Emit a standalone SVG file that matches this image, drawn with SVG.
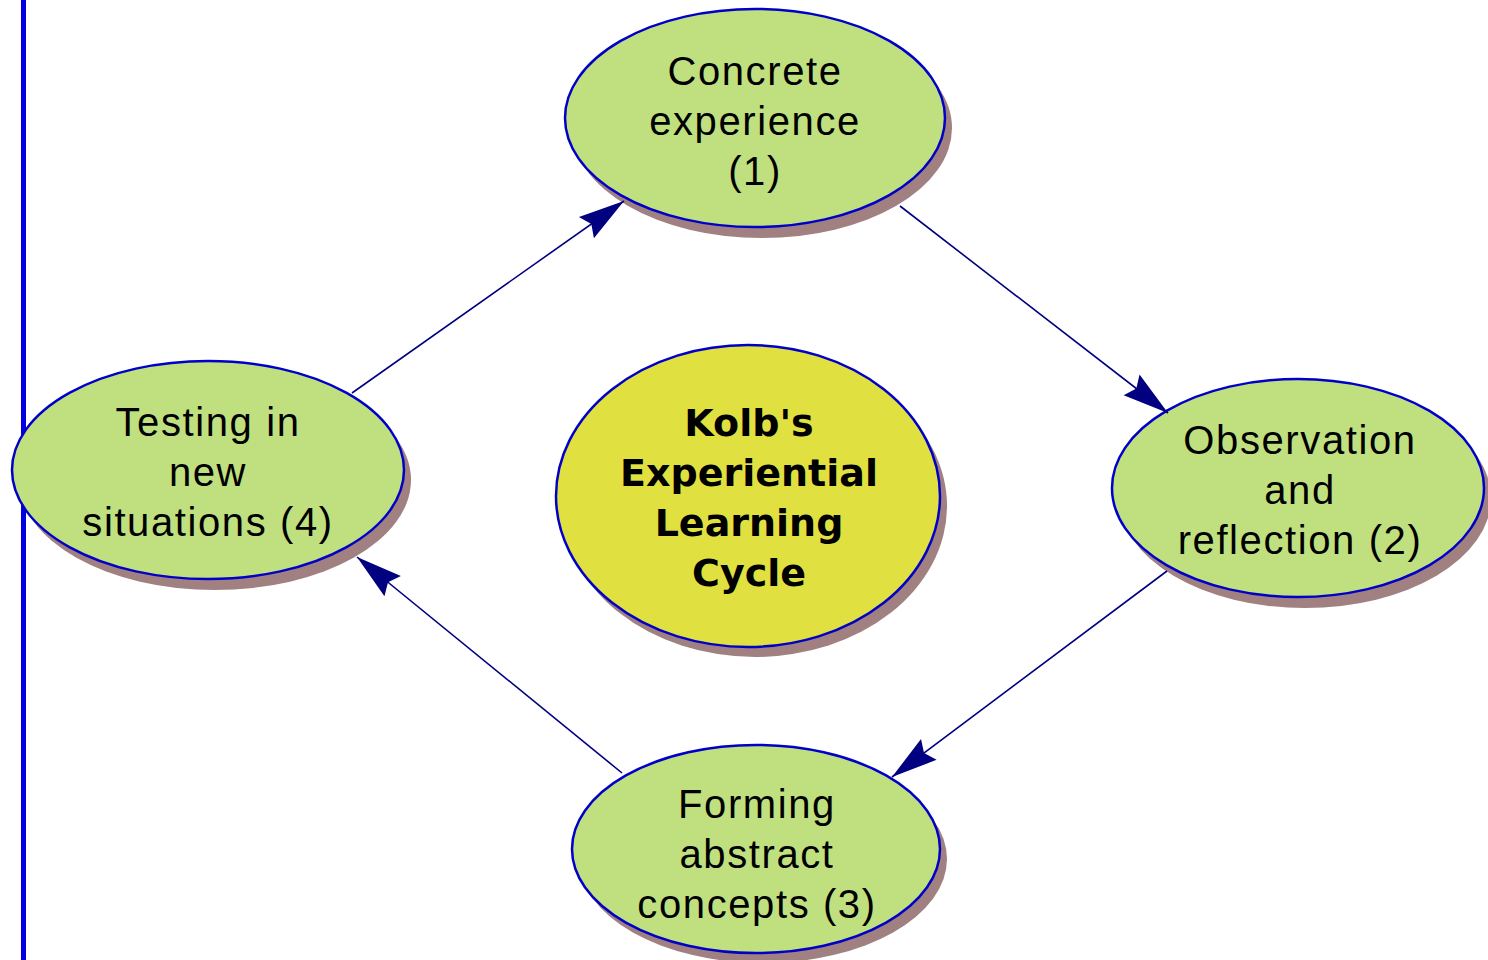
<svg xmlns="http://www.w3.org/2000/svg" width="1488" height="960" viewBox="0 0 1488 960">
<style>
.shadow{fill:#A08080;}
.node{fill:#C0E080;stroke:#0000C8;stroke-width:2.5;}
.center{fill:#E0E040;stroke:#0000C8;stroke-width:2.5;}
.lbl{font-family:"Liberation Sans",Arial,sans-serif;font-size:40px;fill:#000;text-anchor:middle;letter-spacing:1.6px;}
.title{font-family:"DejaVu Sans",Verdana,sans-serif;font-weight:bold;font-size:38px;fill:#000;text-anchor:middle;}
.link{stroke:#000080;stroke-width:1.6;fill:none;marker-end:url(#arrow);}
</style>
<defs>
<marker id="arrow" markerUnits="userSpaceOnUse" viewBox="-50 -15 52 30" refX="0" refY="0" markerWidth="52" markerHeight="30" orient="auto">
<path d="M0,0 L-46,-13 L-40,0 L-46,13 Z" fill="#000080"/>
</marker>
</defs>
<rect x="0" y="0" width="1488" height="960" fill="#FFFFFF"/>
<rect x="21" y="0" width="5" height="960" fill="#0000E0"/>

<g id="node-concrete">
<ellipse class="shadow" cx="762" cy="128" rx="190" ry="110"/>
<ellipse class="node" cx="755" cy="118" rx="190" ry="109"/>
<text class="lbl" x="755" y="85">Concrete</text>
<text class="lbl" x="755" y="135">experience</text>
<text class="lbl" x="755" y="185">(1)</text>
</g>

<g id="node-observation">
<ellipse class="shadow" cx="1305" cy="498" rx="186" ry="110"/>
<ellipse class="node" cx="1298" cy="488" rx="186" ry="109"/>
<text class="lbl" x="1300" y="454">Observation</text>
<text class="lbl" x="1300" y="504">and</text>
<text class="lbl" x="1300" y="554">reflection (2)</text>
</g>

<g id="node-forming">
<ellipse class="shadow" cx="763" cy="859" rx="184" ry="104"/>
<ellipse class="node" cx="756" cy="849" rx="184" ry="104"/>
<text class="lbl" x="757" y="818">Forming</text>
<text class="lbl" x="757" y="868">abstract</text>
<text class="lbl" x="757" y="918">concepts (3)</text>
</g>

<g id="node-testing">
<ellipse class="shadow" cx="215" cy="480" rx="196" ry="110"/>
<ellipse class="node" cx="208" cy="470" rx="196" ry="109"/>
<text class="lbl" x="208" y="436">Testing in</text>
<text class="lbl" x="208" y="486">new</text>
<text class="lbl" x="208" y="536">situations (4)</text>
</g>

<g id="node-kolb">
<ellipse class="shadow" cx="755" cy="506" rx="192" ry="151"/>
<ellipse class="center" cx="748" cy="496" rx="192" ry="151"/>
<text class="title" x="749" y="436">Kolb's</text>
<text class="title" x="749" y="486">Experiential</text>
<text class="title" x="749" y="536">Learning</text>
<text class="title" x="749" y="586">Cycle</text>
</g>

<g id="connectors">
<line class="link" x1="900" y1="206" x2="1168" y2="413"/>
<line class="link" x1="1167" y1="571" x2="892" y2="777"/>
<line class="link" x1="622" y1="773" x2="357" y2="557"/>
<line class="link" x1="352" y1="393" x2="624" y2="201"/>
</g>
</svg>
